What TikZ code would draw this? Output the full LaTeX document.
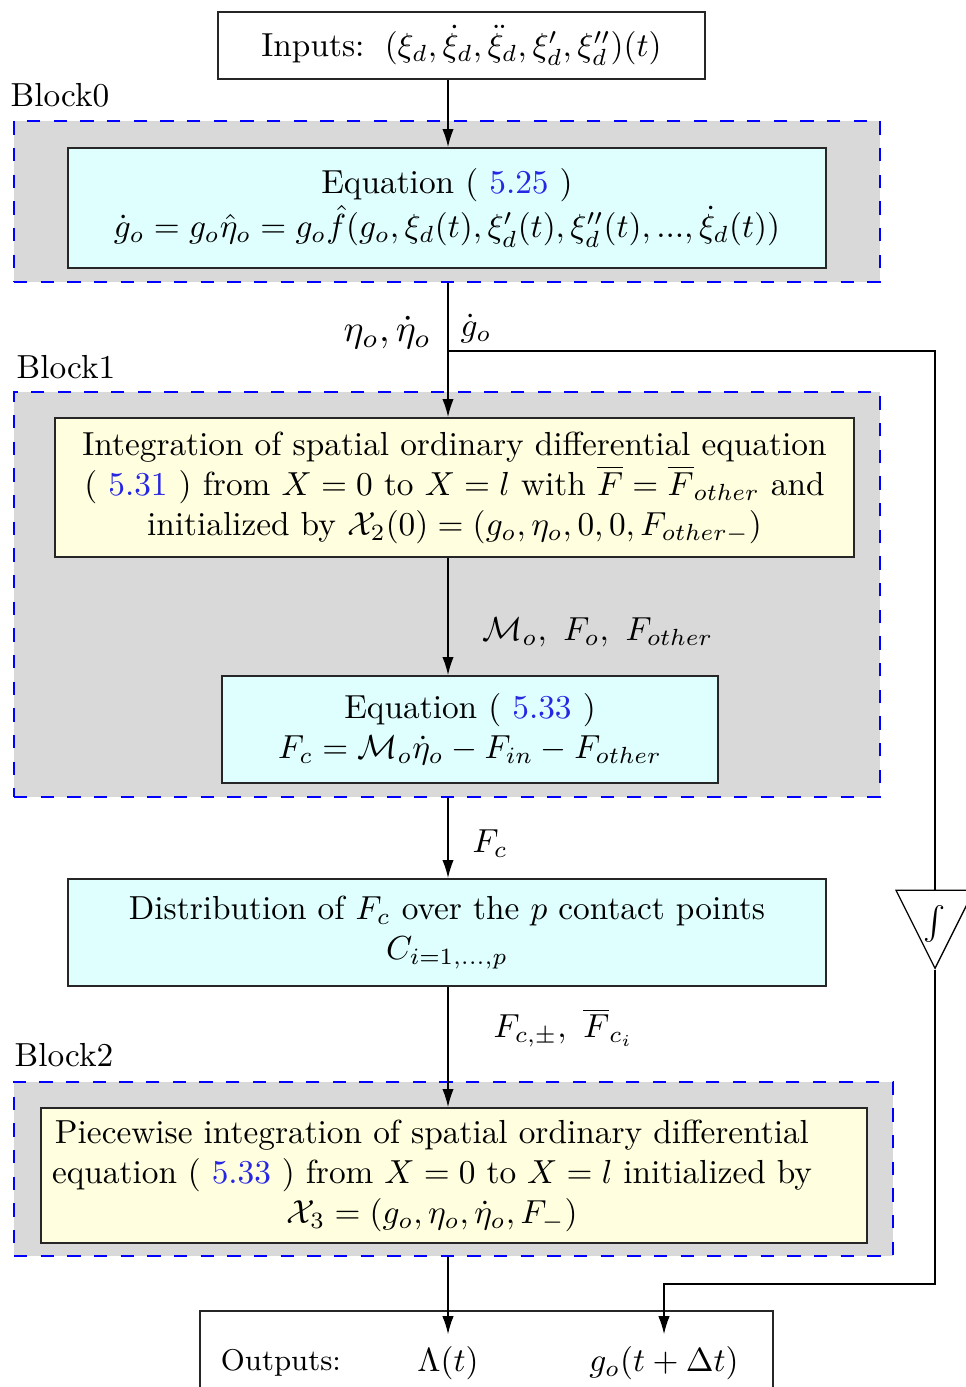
\documentclass[tikz,border=0pt]{standalone}
\usepackage{amsmath,amssymb}
\usepackage{xcolor}
\usepackage{tikz}
\usetikzlibrary{shapes,arrows.meta,positioning,calc}

\definecolor{refblue}{rgb}{0.15,0.15,0.9}
\definecolor{eqfill}{rgb}{0.875,1,1}
\definecolor{intfill}{rgb}{1,1,0.875}
\newcommand{\eqnum}[1]{( \textcolor{refblue}{#1} )}

\begin{document}
\begin{tikzpicture}[
    x=0.3pt, y=-0.3pt,
    blockbox/.style={rectangle, draw=blue, fill=black!15, dash pattern=on 4pt off 4pt, inner sep=0pt},
    blocklbl/.style={anchor=base west, inner sep=0pt},
    eqbox/.style={rectangle, draw=black!85, line width=0.6pt, fill=eqfill, align=center, inner sep=0pt},
    intbox/.style={rectangle, draw=black!85, line width=0.6pt, fill=intfill, align=center, inner sep=0pt},
    iobox/.style={rectangle, draw=black!85, line width=0.5pt, fill=white, inner sep=0pt},
    intg/.style={isosceles triangle, isosceles triangle stretches, shape border rotate=270, draw, fill=white, inner sep=0pt, minimum width=23.4pt, minimum height=23.4pt},
    arrow/.style={-{Latex[length=5.4pt,width=3.4pt]}, draw=black}
]
    \useasboundingbox (0,0) rectangle (966,1387);
    \coordinate (spine) at (448,0);

    \node [iobox, minimum width=146.1pt, minimum height=20.1pt] (inputs) at (461.5,45.5) {Inputs: \,$(\xi_d,\dot{\xi}_d,\ddot{\xi}_d,\xi'_d,\xi''_d)(t)$\hspace{3pt}};

    \node [blockbox, minimum width=259.8pt, minimum height=48.3pt] (block0) at (447,201.5) {};
    \node [blocklbl] (block0lbl) at (10,106) {Block0};
    \node [eqbox, minimum width=227.4pt, minimum height=36pt] (eq25) at (447,208) {Equation \eqnum{5.25}\\ $\dot{g}_o=g_o\hat{\eta}_o=g_o\hat{f}(g_o,\xi_d(t),\xi'_d(t),\xi''_d(t),...,\dot{\xi}_d(t))$};

    \coordinate (branch) at (448,351);
    \node [anchor=east, inner sep=0pt, scale=1.13] (etalbl) at (432,333) {$\eta_o,\dot{\eta}_o$};
    \node [anchor=west, inner sep=0pt] (gdotlbl) at (460,329) {$\dot{g}_o$};

    \node [blockbox, minimum width=259.8pt, minimum height=121.5pt] (block1) at (447,594.5) {};
    \node [blocklbl] (block1lbl) at (16,378) {Block1};
    \node [intbox, minimum width=239.7pt, minimum height=41.7pt] (integ) at (454.5,487.5) {Integration of spatial ordinary differential equation\\ \eqnum{5.31} from $X=0$ to $X=l$ with $\overline{F}=\overline{F}_{other}$ and\\ initialized by $\mathcal{X}_2(0)=(g_o,\eta_o,0,0,F_{other-})$};
    \node [anchor=west, inner sep=0pt] (mlbl) at (482,632) {$\mathcal{M}_o,\ F_o,\ F_{other}$};
    \node [eqbox, minimum width=148.8pt, minimum height=32.1pt] (eq33) at (470,729.5) {Equation \eqnum{5.33}\\ $F_c=\mathcal{M}_o\dot{\eta}_o-F_{in}-F_{other}$};

    \node [anchor=west, inner sep=0pt] (fclbl) at (472,844) {$F_c$};
    \node [eqbox, minimum width=227.4pt, minimum height=32.1pt] (distrib) at (447,932.5) {Distribution of $F_c$ over the $p$ contact points\\ $C_{i=1,\dots,p}$};
    \node [anchor=west, inner sep=0pt] (fcilbl) at (493,1028) {$F_{c,\pm},\ \overline{F}_{c_i}$};

    \node [blockbox, minimum width=263.7pt, minimum height=52.2pt] (block2) at (453.5,1169) {};
    \node [blocklbl] (block2lbl) at (14,1066) {Block2};
    \node [intbox, minimum width=247.8pt, minimum height=40.5pt, inner xsep=3.3pt] (piece) at (454,1175.5) {\parbox{228pt}{\centering Piecewise integration of spatial ordinary differential\\ equation \eqnum{5.33} from $X=0$ to $X=l$ initialized by\\ $\mathcal{X}_3=(g_o,\eta_o,\dot{\eta}_o,F_-)$}\hspace{13.2pt}};

    \node [iobox, minimum width=171.9pt, minimum height=30.6pt] (outputs) at (486.5,1362) {};
    \node [anchor=base, font=\small] (outlbl) at (281,1370) {Outputs:};
    \node [anchor=base] (lam) at (448,1371) {$\Lambda(t)$};
    \node [anchor=base] (gout) at (664,1371) {$g_o(t+\Delta t)$};

    \node [intg, anchor=apex, label={[anchor=north, inner sep=0pt, yshift=-4.5pt]north:$\int$}] (integr) at (935,970) {};
    \coordinate (fbturn) at (935,1284);

    \draw [arrow] (inputs.south -| spine) -- (eq25.north -| spine);
    \draw [arrow] (block0.south -| spine) -- (integ.north -| spine);
    \draw (branch) -- (branch -| integr.north) -- (integr.north);
    \draw [arrow] (integ.south -| spine) -- (eq33.north -| spine);
    \draw [arrow] (block1.south -| spine) -- (distrib.north -| spine);
    \draw [arrow] (distrib.south -| spine) -- (piece.north -| spine);
    \draw [arrow] (block2.south -| spine) -- (lam.north);
    \draw [arrow] (integr.apex) -- (fbturn) -| (gout.north);
\end{tikzpicture}
\end{document}
